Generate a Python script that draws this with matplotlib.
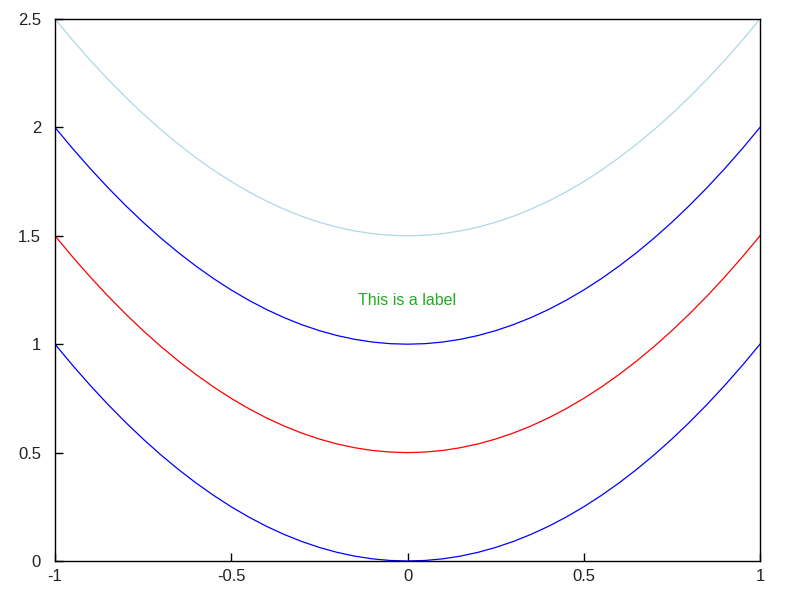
import matplotlib
matplotlib.use("Agg")
import matplotlib.pyplot as plt

x = [-1.0, -0.95, -0.9, -0.85, -0.8, -0.75, -0.7, -0.65, -0.6, -0.55, -0.5,
     -0.45, -0.4, -0.35, -0.3, -0.25, -0.2, -0.15, -0.1, -0.05, 0.0,
     0.05, 0.1, 0.15, 0.2, 0.25, 0.3, 0.35, 0.4, 0.45, 0.5,
     0.55, 0.6, 0.65, 0.7, 0.75, 0.8, 0.85, 0.9, 0.95, 1.0]
y0 = [1.0, 0.9025, 0.81, 0.7225, 0.64, 0.5625, 0.49, 0.4225, 0.36, 0.3025, 0.25,
      0.2025, 0.16, 0.1225, 0.09, 0.0625, 0.04, 0.0225, 0.01, 0.0025, 0.0,
      0.0025, 0.01, 0.0225, 0.04, 0.0625, 0.09, 0.1225, 0.16, 0.2025, 0.25,
      0.3025, 0.36, 0.4225, 0.49, 0.5625, 0.64, 0.7225, 0.81, 0.9025, 1.0]
y1 = [1.5, 1.4025, 1.31, 1.2225, 1.14, 1.0625, 0.99, 0.9225, 0.86, 0.8025, 0.75,
      0.7025, 0.66, 0.6225, 0.59, 0.5625, 0.54, 0.5225, 0.51, 0.5025, 0.5,
      0.5025, 0.51, 0.5225, 0.54, 0.5625, 0.59, 0.6225, 0.66, 0.7025, 0.75,
      0.8025, 0.86, 0.9225, 0.99, 1.0625, 1.14, 1.2225, 1.31, 1.4025, 1.5]
y2 = [2.0, 1.9025, 1.81, 1.7225, 1.64, 1.5625, 1.49, 1.4225, 1.36, 1.3025, 1.25,
      1.2025, 1.16, 1.1225, 1.09, 1.0625, 1.04, 1.0225, 1.01, 1.0025, 1.0,
      1.0025, 1.01, 1.0225, 1.04, 1.0625, 1.09, 1.1225, 1.16, 1.2025, 1.25,
      1.3025, 1.36, 1.4225, 1.49, 1.5625, 1.64, 1.7225, 1.81, 1.9025, 2.0]
y3 = [2.5, 2.4025, 2.31, 2.2225, 2.14, 2.0625, 1.99, 1.9225, 1.86, 1.8025, 1.75,
      1.7025, 1.66, 1.6225, 1.59, 1.5625, 1.54, 1.5225, 1.51, 1.5025, 1.5,
      1.5025, 1.51, 1.5225, 1.54, 1.5625, 1.59, 1.6225, 1.66, 1.7025, 1.75,
      1.8025, 1.86, 1.9225, 1.99, 2.0625, 2.14, 2.2225, 2.31, 2.4025, 2.5]
series = [y0, y1, y2, y3]
colors = ["#0000ff", "#ff0000", "#0000ff", "#add8e6"]
xticks = [-1, -0.5, 0, 0.5, 1]
xticklabels = ["-1", "-0.5", "0", "0.5", "1"]
yticks = [0, 0.5, 1, 1.5, 2, 2.5]
yticklabels = ["0", "0.5", "1", "1.5", "2", "2.5"]
label_text = "This is a label"
label_pos = (0.0, 1.2)

plt.rcParams['font.family'] = ['Liberation Sans', 'DejaVu Sans']
fig = plt.figure(figsize=(8, 6), dpi=100)
ax = fig.add_axes([55/800, 1-561/600, 705/800, 542/600])
for ys, c in zip(series, colors):
    ax.plot(x, ys, color=c, lw=0.9)
ax.text(label_pos[0], label_pos[1], label_text, color="#22aa22",
        ha="center", va="center", fontsize=11.5)
ax.set_xlim(-1, 1)
ax.set_ylim(0, 2.5)
ax.set_xticks(xticks)
ax.set_xticklabels(xticklabels)
ax.set_yticks(yticks)
ax.set_yticklabels(yticklabels)
ax.tick_params(direction="in", length=6, width=1, labelsize=12,
               labelcolor="#222222")
ax.tick_params(axis="x", pad=6)
ax.tick_params(axis="y", pad=10)
for s in ax.spines.values():
    s.set_linewidth(1)
fig.savefig("out.png", dpi=100)
